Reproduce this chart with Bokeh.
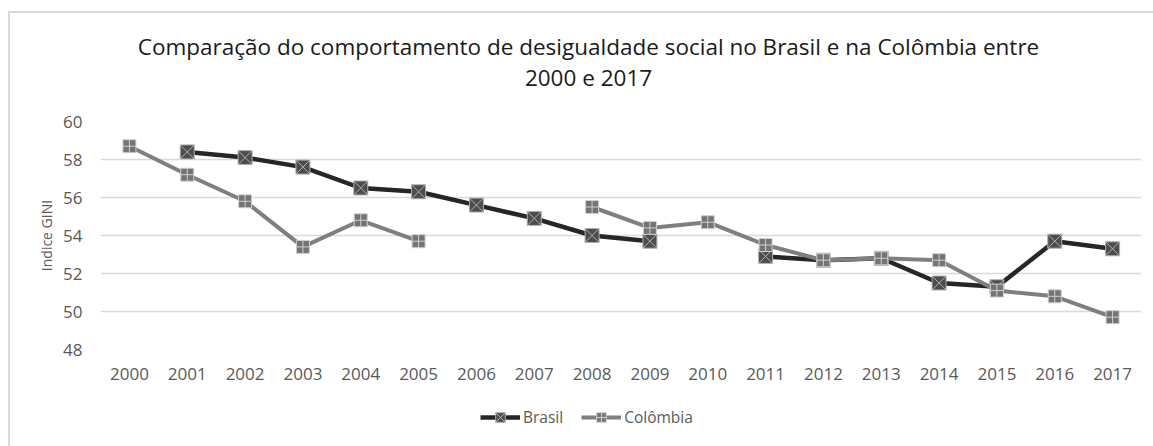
import math
from bokeh.plotting import figure
from bokeh.layouts import column
from bokeh.models import Range1d, FactorRange, Label, Legend, LegendItem
from bokeh.embed import file_html
from bokeh.resources import INLINE

NaN = float("nan")

years = [str(y) for y in range(2000, 2018)]
brasil = [NaN, 58.4, 58.1, 57.6, 56.5, 56.3, 55.6, 54.9, 54.0, 53.7, NaN,
          52.9, 52.7, 52.8, 51.5, 51.3, 53.7, 53.3]
colombia = [58.7, 57.2, 55.8, 53.4, 54.8, 53.7, NaN, NaN, 55.5, 54.4, 54.7,
            53.5, 52.7, 52.8, 52.7, 51.1, 50.8, 49.7]
y_ticks = [48, 50, 52, 54, 56, 58, 60]
title_lines = ["Comparação do comportamento de desigualdade social no Brasil e na Colômbia entre",
               "2000 e 2017"]
series_names = ["Brasil", "Colômbia"]

FONT = "Open Sans"
TXT = "#595959"
W = 1143

BR_LINE = dict(line_color="#262626", line_width=4.5)
BR_MARK = dict(marker="square_x", size=14, fill_color="#4d4d4d", line_color="#b0b0b0", line_width=1)
CO_LINE = dict(line_color="#7f7f7f", line_width=4)
CO_MARK = dict(marker="square_cross", size=13, fill_color="#747474", line_color="#d0d0d0", line_width=1)


def blank(h):
    f = figure(width=W, height=h, x_range=Range1d(0, 1), y_range=Range1d(0, 1),
               x_axis_type=None, y_axis_type=None, output_backend="svg", toolbar_location=None,
               min_border=0)
    f.outline_line_color = None
    return f


# --- title (frame of this figure is aligned with the chart frame by the column) ---
tf = blank(93)
tf.add_layout(Label(x=488, y=60, x_units="screen", y_units="screen", text=title_lines[0],
                    text_font=FONT, text_font_size="22.5px", text_color="#1a1a1a",
                    text_align="center", text_baseline="middle"))
tf.add_layout(Label(x=488, y=29, x_units="screen", y_units="screen", text=title_lines[1],
                    text_font=FONT, text_font_size="22.5px", text_color="#1a1a1a",
                    text_align="center", text_baseline="middle"))

# --- main chart ---
p = figure(width=W, height=300, x_range=FactorRange(*years), y_range=Range1d(48, 60),
           output_backend="svg", toolbar_location=None,
           min_border_left=90, min_border_right=12, min_border_top=15, min_border_bottom=57)
p.outline_line_color = None
p.yaxis.ticker = y_ticks
p.ygrid.grid_line_color = "#d9d9d9"
p.ygrid.grid_line_width = 1.5
p.xgrid.grid_line_color = None
for ax in (p.xaxis[0], p.yaxis[0]):
    ax.axis_line_color = None
    ax.major_tick_line_color = None
    ax.minor_tick_line_color = None
    ax.major_label_text_font = FONT
    ax.major_label_text_font_size = "17px"
    ax.major_label_text_color = TXT
p.yaxis.major_label_standoff = 12
p.xaxis.major_label_standoff = 12
p.yaxis.axis_label = "Indice GINI"
p.yaxis.axis_label_text_font = FONT
p.yaxis.axis_label_text_font_size = "14px"
p.yaxis.axis_label_text_font_style = "normal"
p.yaxis.axis_label_text_color = TXT
p.yaxis.axis_label_standoff = 4

p.line(years, brasil, **BR_LINE)
p.scatter(years, brasil, **BR_MARK)
p.line(years, colombia, **CO_LINE)
p.scatter(years, colombia, **CO_MARK)

# --- legend (proxy renderers lie outside the visible range; only their legend glyphs show) ---
lf = blank(40)
bl = lf.line([-5, -4], [-5, -4], **BR_LINE)
bs = lf.scatter([-5], [-5], **BR_MARK)
cl = lf.line([-5, -4], [-5, -4], **CO_LINE)
cs = lf.scatter([-5], [-5], **CO_MARK)
legend = Legend(items=[LegendItem(label=series_names[0], renderers=[bl, bs]),
                       LegendItem(label=series_names[1], renderers=[cl, cs])],
                orientation="horizontal", location=(380, 17),
                glyph_width=40, glyph_height=24, label_standoff=3, spacing=18,
                padding=0, margin=0, border_line_color=None, background_fill_alpha=0,
                label_text_font=FONT, label_text_font_size="15.5px", label_text_color=TXT)
lf.add_layout(legend, "center")

layout = column(tf, p, lf, spacing=0, margin=(11, 0, 0, 8))
layout.styles = {"border-left": "2px solid #d9d9d9", "border-top": "2px solid #d9d9d9"}

open("out.html", "w").write(file_html(layout, INLINE))
